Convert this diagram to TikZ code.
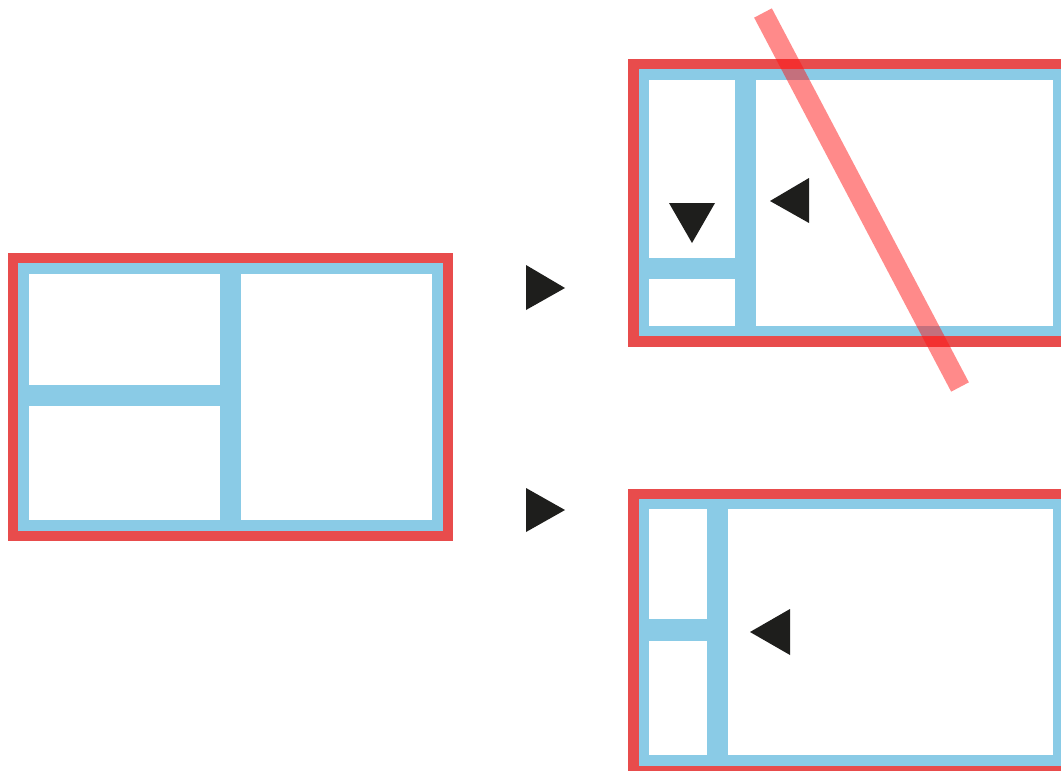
\documentclass[tikz,border=0pt]{standalone}
\definecolor{frame}{RGB}{232,76,76}
\definecolor{panel}{RGB}{138,203,230}
\definecolor{mark}{RGB}{30,30,28}
\definecolor{slash}{RGB}{255,22,22}
\tikzset{
  frameband/.style={fill=frame},
  panelband/.style={fill=panel},
  cell/.style={fill=white},
  marker/.style={fill=mark},
  strike/.style={draw=slash, opacity=0.5, line width=20pt}
}
\begin{document}
\begin{tikzpicture}[x=1pt,y=-1pt]
\useasboundingbox (0,0) rectangle (1061,771);
\clip (0,0) rectangle (1061,771);
\fill[white] (0,0) rectangle (1061,771);
% left layout
\fill[frameband] (8,253) rectangle (453,541);
\fill[panelband] (18,263) rectangle (443,531);
\fill[cell] (29,274) rectangle (220,385);
\fill[cell] (29,406) rectangle (220,520);
\fill[cell] (241,274) rectangle (432,520);
% arrows
\fill[marker] (526,265) -- (526,310) -- (565,288) -- cycle;
\fill[marker] (526,488) -- (526,532) -- (565,510) -- cycle;
% top right layout
\fill[frameband] (628,59) rectangle (1075,347);
\fill[panelband] (639,69) rectangle (1064,336);
\fill[cell] (649,80) rectangle (735,258);
\fill[cell] (649,279) rectangle (735,326);
\fill[cell] (756,80) rectangle (1053,326);
\fill[marker] (669,203) -- (715,203) -- (692,243) -- cycle;
\fill[marker] (809,178) -- (809,223) -- (770,201) -- cycle;
\draw[strike] (763,13) -- (960,387);
% bottom right layout
\fill[frameband] (628,489) rectangle (1075,777);
\fill[panelband] (639,499) rectangle (1064,766);
\fill[cell] (649,509) rectangle (707,619);
\fill[cell] (649,641) rectangle (707,755);
\fill[cell] (728,509) rectangle (1053,755);
\fill[marker] (790,609) -- (790,655) -- (750,632) -- cycle;
\end{tikzpicture}
\end{document}
